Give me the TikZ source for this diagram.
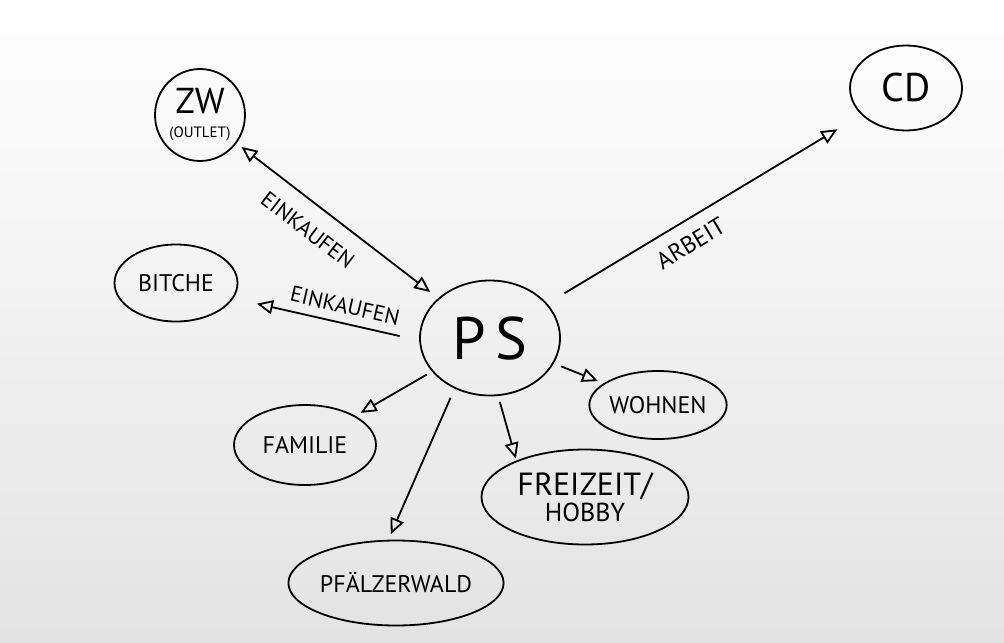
\documentclass[tikz,border=0pt]{standalone}
\usepackage{fontspec}
\setmainfont{PT Sans}
\usetikzlibrary{arrows.meta,shapes.geometric}

\begin{document}
\begin{tikzpicture}[
    x=0.5pt, y=-0.5pt,
    line width=0.9pt,
    >={Triangle[open, length=8pt, width=7pt]},
    blob/.style={draw, ellipse, inner sep=0pt, align=center,
                 font=\fontsize{12}{13}\selectfont},
    arr/.style={->, shorten >=3pt, shorten <=3pt},
    lbl/.style={font=\fontsize{11}{12}\selectfont, sloped}
  ]
  % paper
  \shade[top color=white, bottom color=black!11] (0,0) rectangle (1004,642);
  \useasboundingbox (0,0) rectangle (1004,642);

  % centre
  \node[blob, minimum width=70pt, minimum height=57.5pt,
        font=\fontsize{30}{32}\selectfont] (ps) at (490,338) {P\,S};

  % places
  \node[blob, minimum width=45pt, minimum height=46pt] (zw) at (200,115)
    {{\fontsize{18}{18}\selectfont ZW}\\[-1pt]{\fontsize{7.5}{8}\selectfont (OUTLET)}};
  \node[blob, minimum width=56pt, minimum height=42.5pt,
        font=\fontsize{20}{22}\selectfont] (cd) at (906,88) {CD};
  \node[blob, minimum width=61.5pt, minimum height=38.5pt] (bit) at (176,283) {BITCHE};
  \node[blob, minimum width=71pt, minimum height=40pt] (fam) at (305,445) {FAMILIE};
  \node[blob, minimum width=60.5pt, minimum height=34pt] (wohn) at (658,405) {WOHNEN};
  \node[blob, minimum width=103.5pt, minimum height=47.5pt] (frei) at (585,497)
    {{\fontsize{16}{17}\selectfont FREIZEIT/}\\{\fontsize{13}{14}\selectfont HOBBY}};
  \node[blob, minimum width=83.5pt, minimum height=42.5pt] (pfw) at (396,583) {PFÄLZERWALD};

  % connections
  \draw[arr, <->, shorten >=5pt] (zw)
    -- node[lbl, below=5pt, pos=0.43] {EINKAUFEN} (ps);
  \draw[arr, shorten <=10pt, shorten >=12pt] (ps.182)
    -- node[lbl, above=1pt, pos=0.42] {EINKAUFEN} (bit.-15);
  \draw[arr, shorten <=10pt, shorten >=14pt] (ps)
    -- node[lbl, below=3pt, pos=0.42, font=\fontsize{12}{13}\selectfont] {ARBEIT} (cd);
  \draw[arr] (ps) -- (fam);
  \draw[arr, shorten <=5pt] (ps.-125) -- (pfw.100);
  \draw[arr, shorten >=1pt] (ps.-82) -- (frei.152);
  \draw[arr, shorten <=4pt] (ps) -- (wohn);
\end{tikzpicture}
\end{document}
